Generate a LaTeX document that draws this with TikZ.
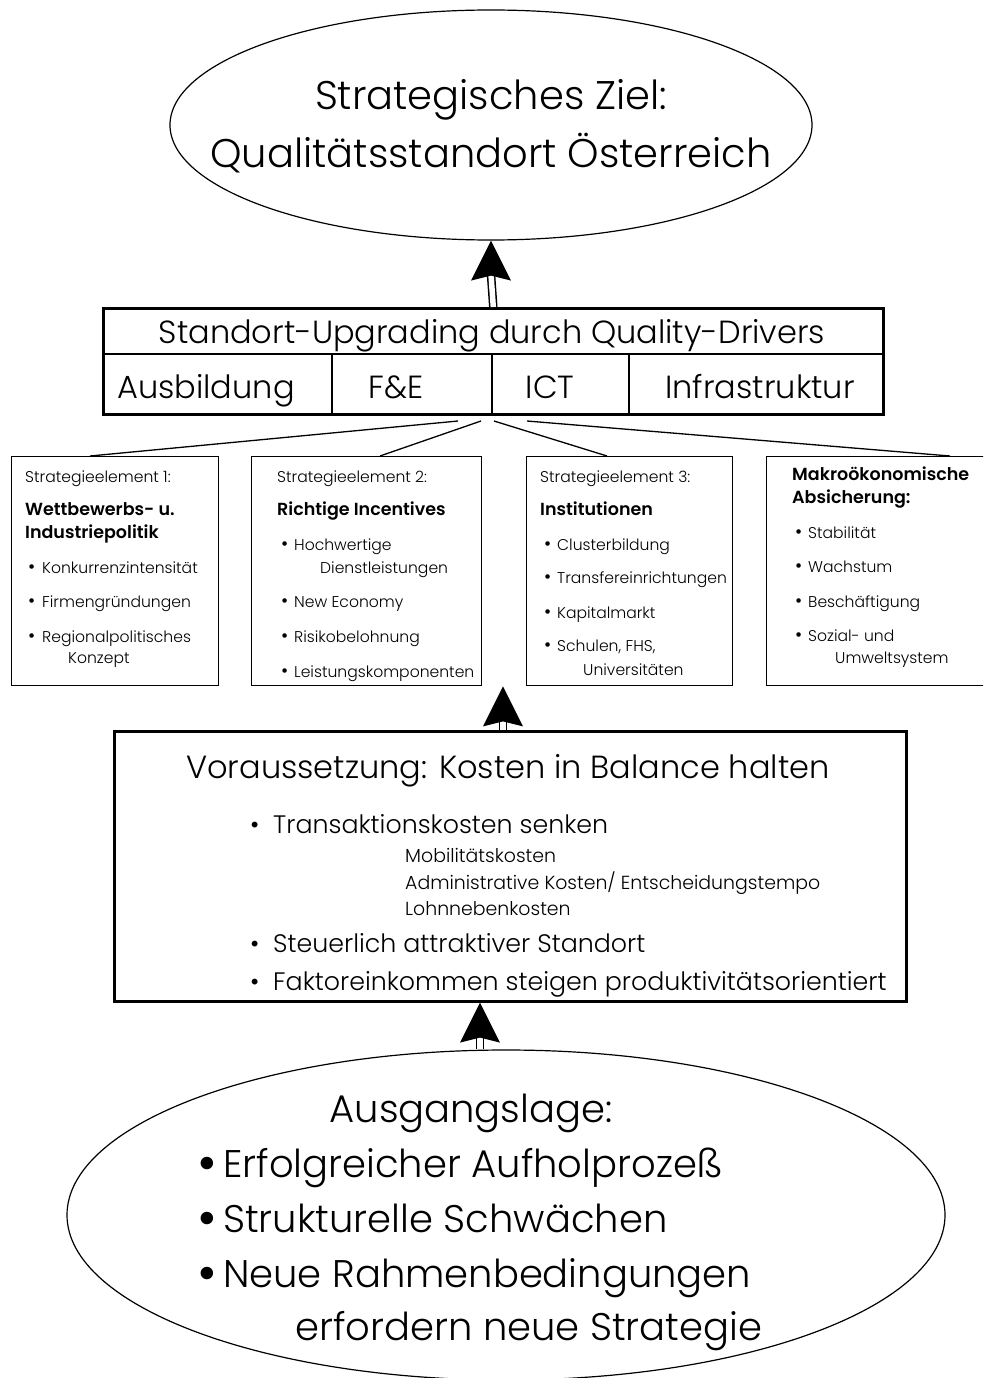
\documentclass[tikz,border=0pt]{standalone}
\usepackage{fontspec}
\setmainfont{Poppins}[UprightFont=* Light, BoldFont=* SemiBold]
\usetikzlibrary{calc,shapes.geometric}

\newcommand\fs[1]{\fontsize{#1}{#1}\selectfont}
\newcommand\bulletmark{\textbullet}
% one line of text, left aligned on its baseline
\newcommand\putline[4]{\node[txt] (#1) at (#2,#3) {#4};}
% bullet + text: name, bullet x, text x, baseline, text
\newcommand\bitem[5]{\node[txt] (#1b) at (#2,#4) {\bulletmark};
  \node[txt] (#1) at (#3,#4) {#5};}
% thick upward arrow with a double shaft: foot, tip
\newcommand\liftarrow[2]{%
  \draw[shaft] (#1) -- ($(#2)+(0,34)$);
  \fill ($(#2)$) -- ++(-20,40) -- ++(20,-5) -- ++(20,5) -- cycle;}

\begin{document}
\begin{tikzpicture}[x=1pt,y=-1pt,
  txt/.style={inner sep=0pt, anchor=base west},
  ctxt/.style={inner sep=0pt, anchor=base},
  head/.style={font=\fs{17.5}\bfseries},
  oval/.style={ellipse, draw, line width=1.2pt, inner sep=0pt},
  frame/.style={draw, line width=2.6pt, inner sep=0pt, anchor=north west},
  smallbox/.style={draw, line width=1.4pt, inner sep=0pt, anchor=north west},
  conn/.style={line width=1.3pt},
  shaft/.style={double, double distance=5.5pt, line width=1.5pt}]
\useasboundingbox (0,0) rectangle (983,1378);
\clip (0,0) rectangle (983,1378);

% ---- goal ellipse
\node[oval, minimum width=642pt, minimum height=230pt] (goal) at (491,125) {};
\begin{scope}[font=\fs{40}]
  \node[ctxt] (goal1) at (491,110) {Strategisches Ziel:};
  \node[ctxt] (goal2) at (491,167) {Qualitätsstandort Österreich};
\end{scope}

% ---- quality drivers
\node[frame, minimum width=780pt, minimum height=106pt] (qd) at (102,307) {};
\draw[line width=1.2pt] (qd.west |- 0,354) -- (qd.east |- 0,354);
\foreach \x in {332,492,629} \draw[line width=1.2pt] (\x,354) -- (\x,413);
\begin{scope}[font=\fs{32}]
  \node[ctxt] (qdt) at (492,343) {Standort-Upgrading durch Quality-Drivers};
  \node[ctxt] (qd1) at (206,398) {Ausbildung};
  \node[ctxt] (qd2) at (396,398) {F\&E};
  \node[ctxt] (qd3) at (550,398) {ICT};
  \node[ctxt] (qd4) at (760,398) {Infrastruktur};
\end{scope}
\liftarrow{qd.north}{goal.south}

% ---- strategy elements
\node[smallbox, minimum width=207pt, minimum height=229pt] (s1) at (11,456) {};
\node[smallbox, minimum width=230pt, minimum height=229pt] (s2) at (251,456) {};
\node[smallbox, minimum width=206pt, minimum height=229pt] (s3) at (526,456) {};
\node[smallbox, minimum width=240pt, minimum height=229pt] (s4) at (766,456) {};

\coordinate (f1) at (458,421);
\coordinate (f2) at (481,421);
\coordinate (f3) at (494,421);
\coordinate (f4) at (527,421);
\draw[conn] (f1) -- (s1.north -| 90,0);
\draw[conn] (f2) -- (s2.north -| 380,0);
\draw[conn] (f3) -- (s3.north -| 607,0);
\draw[conn] (f4) -- (s4.north -| 950,0);

\begin{scope}[font=\fs{15.6}]
  \renewcommand\bulletmark{\raisebox{-0.8pt}{\scalebox{1.25}{\textbullet}}}
  \putline{s1h}{25}{482}{Strategieelement 1:}
  \node[txt, head] (s1t) at (25,515) {Wettbewerbs- u.};
  \node[txt, head] (s1u) at (25,538) {Industriepolitik};
  \bitem{s1a}{28}{42}{573}{Konkurrenzintensität}
  \bitem{s1c}{28}{42}{607}{Firmengründungen}
  \bitem{s1d}{28}{42}{642}{Regionalpolitisches}
  \putline{s1e}{68}{663}{Konzept}

  \putline{s2h}{277}{482}{Strategieelement 2:}
  \node[txt, head] (s2t) at (277,515) {Richtige Incentives};
  \bitem{s2a}{281}{294}{550}{Hochwertige}
  \putline{s2b}{320}{573}{Dienstleistungen}
  \bitem{s2c}{281}{294}{607}{New Economy}
  \bitem{s2d}{281}{294}{642}{Risikobelohnung}
  \bitem{s2e}{281}{294}{677}{Leistungskomponenten}

  \putline{s3h}{540}{482}{Strategieelement 3:}
  \node[txt, head] (s3t) at (540,515) {Institutionen};
  \bitem{s3a}{544}{557}{550}{Clusterbildung}
  \bitem{s3c}{544}{557}{583}{Transfereinrichtungen}
  \bitem{s3d}{544}{557}{618}{Kapitalmarkt}
  \bitem{s3e}{544}{557}{651}{Schulen, FHS,}
  \putline{s3f}{583}{675}{Universitäten}

  \node[txt, head] (s4t) at (792,480) {Makroökonomische};
  \node[txt, head] (s4u) at (792,503) {Absicherung:};
  \bitem{s4a}{795}{808}{538}{Stabilität}
  \bitem{s4c}{795}{808}{572}{Wachstum}
  \bitem{s4d}{795}{808}{607}{Beschäftigung}
  \bitem{s4e}{795}{808}{641}{Sozial- und}
  \putline{s4f}{835}{663}{Umweltsystem}
\end{scope}

% ---- costs in balance
\node[frame, minimum width=792pt, minimum height=270pt] (vor) at (113,730) {};
\liftarrow{vor.north -| 503,0}{s2.south -| 503,0}
\node[ctxt, font=\fs{32}] (vort) at (508,778) {Voraussetzung: Kosten in Balance halten};
\begin{scope}[font=\fs{25.3}]
  \bitem{v1}{250}{273}{833}{Transaktionskosten senken}
  \bitem{v2}{250}{273}{952}{Steuerlich attraktiver Standort}
  \bitem{v3}{250}{273}{990}{Faktoreinkommen steigen produktivitätsorientiert}
\end{scope}
\begin{scope}[font=\fs{18.9}]
  \putline{v1a}{405}{862}{Mobilitätskosten}
  \putline{v1b}{405}{889}{Administrative Kosten/ Entscheidungstempo}
  \putline{v1c}{405}{915}{Lohnnebenkosten}
\end{scope}

% ---- starting point
\node[oval, minimum width=878pt, minimum height=330pt] (start) at (506,1215) {};
\liftarrow{start.north -| 480,0}{vor.south -| 480,0}
\begin{scope}[font=\fs{38.5}]
  \renewcommand\bulletmark{\raisebox{-4.5pt}{\scalebox{1.4}{\textbullet}}}
  \node[ctxt] (st0) at (471,1122) {Ausgangslage:};
  \bitem{st1}{197}{223}{1177}{Erfolgreicher Aufholprozeß}
  \bitem{st2}{197}{223}{1232}{Strukturelle Schwächen}
  \bitem{st3}{197}{223}{1287}{Neue Rahmenbedingungen}
  \putline{st4}{295}{1340}{erfordern neue Strategie}
\end{scope}
\end{tikzpicture}
\end{document}
